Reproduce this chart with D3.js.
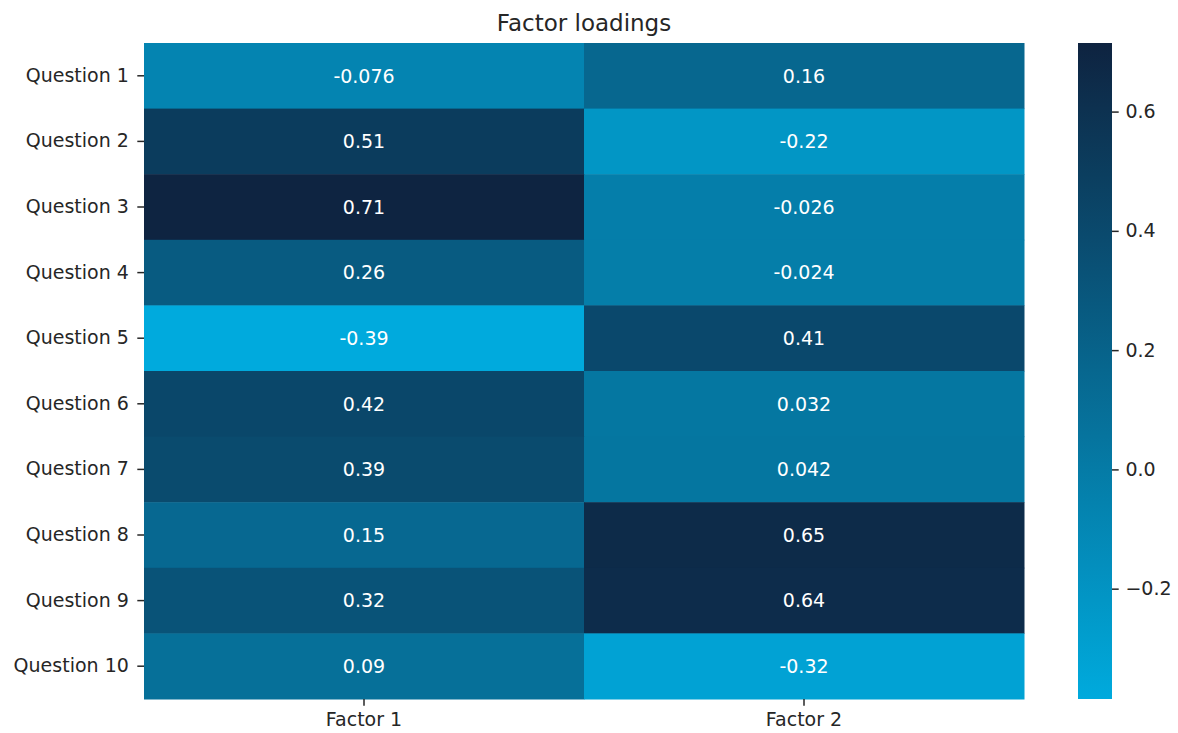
<!DOCTYPE html>
<html><head><meta charset="utf-8">
<script src="https://cdn.jsdelivr.net/npm/d3@7"></script>
<style>body{margin:0;background:#fff}text{font-family:"DejaVu Sans",sans-serif}</style>
</head><body><svg id="c" width="1178" height="733"></svg>
<script>
const questions = ["Question 1","Question 2","Question 3","Question 4","Question 5","Question 6","Question 7","Question 8","Question 9","Question 10"];
const factors = ["Factor 1","Factor 2"];
const factor1 = [-0.076, 0.51, 0.71, 0.26, -0.39, 0.42, 0.39, 0.15, 0.32, 0.09];
const factor2 = [0.16, -0.22, -0.026, -0.024, 0.41, 0.032, 0.042, 0.65, 0.64, -0.32];
const barTicks = [-0.2, 0.0, 0.2, 0.4, 0.6];

const FS = 19, TFS = 23;
const svg = d3.select("#c");
const L = 144, R = 1024, T = 43, B = 699;
const x = d3.scaleBand().domain(factors).range([L, R]);
const y = d3.scaleBand().domain(questions).range([T, B]);
const all = factor1.concat(factor2);
const vmin = d3.min(all) + 0.005, vmax = d3.max(all) + 0.005;
const color = d3.scaleLinear().domain([vmin, vmax]).range(["#00aadd", "#0e2340"]).interpolate(d3.interpolateRgb).clamp(true);

const cells = [];
questions.forEach((q, i) => {
  cells.push({q, f: factors[0], v: factor1[i]});
  cells.push({q, f: factors[1], v: factor2[i]});
});
svg.append("g").selectAll("rect").data(cells).join("rect")
  .attr("x", d => x(d.f)).attr("y", d => y(d.q))
  .attr("width", x.bandwidth() + 0.5).attr("height", y.bandwidth() + 0.5)
  .attr("fill", d => color(d.v));
svg.append("g").selectAll("text").data(cells).join("text")
  .attr("x", d => x(d.f) + x.bandwidth() / 2).attr("y", d => y(d.q) + y.bandwidth() / 2)
  .attr("text-anchor", "middle").attr("dy", "0.36em")
  .attr("fill", "#ffffff").attr("font-size", FS)
  .text(d => String(d.v));

// axes
const xAxis = svg.append("g").attr("transform", `translate(0,${B})`)
  .call(d3.axisBottom(x).tickSize(6.7).tickPadding(6.7));
const yAxis = svg.append("g").attr("transform", `translate(${L},0)`)
  .call(d3.axisLeft(y).tickSize(6.7).tickPadding(8.5));
[xAxis, yAxis].forEach(a => {
  a.select(".domain").remove();
  a.selectAll("text").attr("font-size", FS).attr("fill", "#262626").style("font-family", '"DejaVu Sans",sans-serif');
  a.selectAll("line").attr("stroke", "#262626").attr("stroke-width", 1.5);
});

// title
svg.append("text").attr("x", (L + R) / 2).attr("y", 31).attr("text-anchor", "middle")
  .attr("font-size", TFS).attr("fill", "#262626").text("Factor loadings");

// colorbar
const cbL = 1078, cbW = 34;
const cy = d3.scaleLinear().domain([vmin, vmax]).range([B, T]);
const defs = svg.append("defs");
const grad = defs.append("linearGradient").attr("id", "g").attr("x1", 0).attr("x2", 0).attr("y1", 1).attr("y2", 0);
d3.range(0, 1.0001, 0.1).forEach(t => {
  grad.append("stop").attr("offset", t).attr("stop-color", color(vmin + t * (vmax - vmin)));
});
svg.append("rect").attr("x", cbL).attr("y", T).attr("width", cbW).attr("height", B - T).attr("fill", "url(#g)");
const cAxis = svg.append("g").attr("transform", `translate(${cbL + cbW},0)`)
  .call(d3.axisRight(cy).tickValues(barTicks).tickSize(6.7).tickPadding(6.7)
    .tickFormat(d => (d < 0 ? "\u2212" : "") + Math.abs(d).toFixed(1)));
cAxis.select(".domain").remove();
cAxis.selectAll("text").attr("font-size", FS).attr("fill", "#262626").style("font-family", '"DejaVu Sans",sans-serif');
cAxis.selectAll("line").attr("stroke", "#262626").attr("stroke-width", 1.5);
</script></body></html>
